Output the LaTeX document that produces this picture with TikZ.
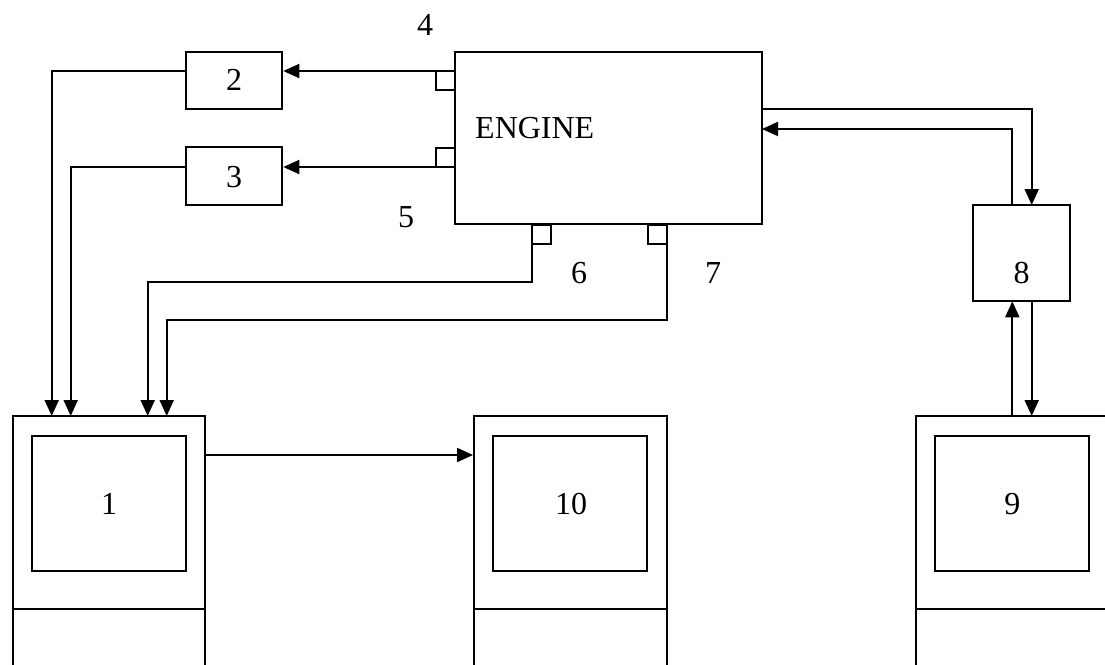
\documentclass[tikz,border=0pt]{standalone}
\usepackage{fontspec}
\setmainfont{Liberation Serif}
\usetikzlibrary{arrows.meta}
\begin{document}
\begin{tikzpicture}[x=1pt,y=-1pt,
  lw/.style={line width=2pt},
  blk/.style={draw,lw,rectangle,inner sep=0pt,minimum width=#1},
  port/.style={draw,lw,rectangle,inner sep=0pt,minimum width=19pt,minimum height=19pt},
  arr/.style={lw,-{Triangle[length=16pt,width=14pt]}},
  ln/.style={lw},
  txt/.style={inner sep=0pt,font=\fontsize{32}{36}\selectfont}]
\useasboundingbox (0,0) rectangle (1105,664);
% blocks
\node[blk=96.6pt,minimum height=57.6pt] (b2) at (234,80.5) {};
\node[blk=96.6pt,minimum height=57.7pt] (b3) at (234,176) {};
\node[blk=307pt,minimum height=172pt] (eng) at (608.5,138) {};
\node[blk=96.7pt,minimum height=96.3pt] (b8) at (1021.7,253.2) {};
% terminals
\node[blk=192.6pt,minimum height=284pt] (b1) at (109,558) {};
\node[blk=154pt,minimum height=135pt] (i1) at (109,503.5) {};
\node[blk=192.6pt,minimum height=284pt] (b10) at (570.3,558) {};
\node[blk=154pt,minimum height=135pt] (i10) at (570,503.5) {};
\node[blk=192.6pt,minimum height=284pt] (b9) at (1012.3,558) {};
\node[blk=154pt,minimum height=135pt] (i9) at (1012.3,503.5) {};
\draw[ln] (b1.west |- 0,609) -- (b1.east |- 0,609);
\draw[ln] (b10.west |- 0,609) -- (b10.east |- 0,609);
\draw[ln] (b9.west |- 0,609) -- (b9.east |- 0,609);
% ports
\node[port] (q4) at (445.5,80.5) {};
\node[port] (q5) at (445.5,157.2) {};
\node[port] (q6) at (541.5,234) {};
\node[port] (q7) at (657,234) {};
% texts
\node[txt] (t2) at (234,80) {2};
\node[txt] (t3) at (234,177) {3};
\node[txt,anchor=west] (teng) at (475,128) {ENGINE};
\node[txt] (t8) at (1021.7,273) {8};
\node[txt] (t1) at (109,504) {1};
\node[txt] (t10) at (571,504) {10};
\node[txt] (t9) at (1012.3,504) {9};
\node[txt] (l4) at (425,25) {4};
\node[txt] (l5) at (406,217) {5};
\node[txt] (l6) at (579,273) {6};
\node[txt] (l7) at (713,273) {7};
% coordinates
\coordinate (p4) at (455,71);
\coordinate (p5) at (455,167);
\coordinate (p6) at (532,244);
\coordinate (p7) at (667,244);
\coordinate (in1) at (51.7,416);
\coordinate (in2) at (70.7,416);
\coordinate (in3) at (147.7,416);
\coordinate (in4) at (166.7,416);
\coordinate (k6) at (147.7,282);
\coordinate (k7) at (166.7,320.3);
\coordinate (e1) at (762,109.3);
\coordinate (e2) at (762,129);
\coordinate (c8a) at (1031.7,205);
\coordinate (c8b) at (1012.3,205);
\coordinate (d8a) at (1012.3,301.3);
\coordinate (d8b) at (1031.7,301.3);
\coordinate (n9a) at (1012.3,416);
\coordinate (n9b) at (1031.7,416);
% connectors
\draw[arr] (p4) -- (p4 -| b2.east);
\draw[arr] (p5) -- (p5 -| b3.east);
\draw[arr] (p4 -| b2.west) -| (in1);
\draw[arr] (p5 -| b3.west) -| (in2);
\draw[arr] (p6) |- (k6) -- (in3);
\draw[arr] (p7) |- (k7) -- (in4);
\draw[arr] (e1) -| (c8a);
\draw[arr] (c8b) |- (e2);
\draw[arr] (n9a) -- (d8a);
\draw[arr] (d8b) -- (n9b);
\draw[arr] (b1.east |- 0,455) -- (b10.west |- 0,455);
\end{tikzpicture}
\end{document}
